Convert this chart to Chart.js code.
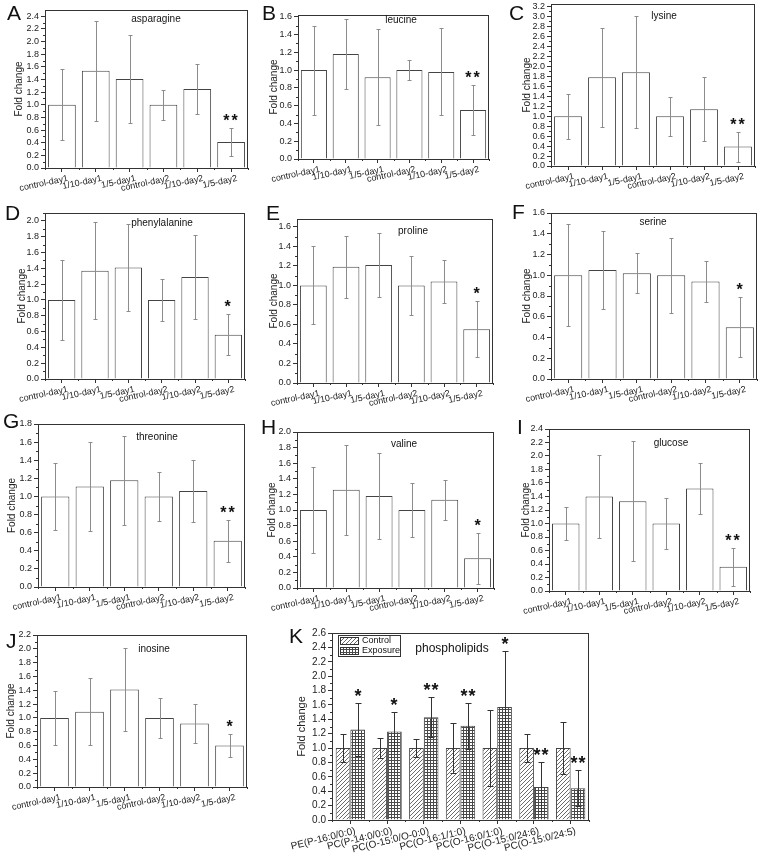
<!DOCTYPE html>
<html>
<head>
<meta charset="utf-8">
<script src="https://cdn.jsdelivr.net/npm/chart.js@4.4.0/dist/chart.umd.min.js"></script>
<style>
  body { margin: 0; background: #fff; width: 760px; height: 855px; position: relative; overflow: hidden;
         font-family: "Liberation Sans", Arial, sans-serif; }
  .box { position: absolute; }
  .letter { position: absolute; font-size: 21px; line-height: 21px; color: #111; }
</style>
</head>
<body>
<script>
// ---- data -----------------------------------------------------------------
const groups = ["control-day1", "1/10-day1", "1/5-day1", "control-day2", "1/10-day2", "1/5-day2"];

const asparagine    = [1.00, 1.54, 1.41, 1.00, 1.25, 0.41];
const asparagineErr = [0.56, 0.79, 0.70, 0.24, 0.40, 0.22];
const leucine       = [1.00, 1.18, 0.92, 1.00, 0.98, 0.55];
const leucineErr    = [0.50, 0.39, 0.54, 0.11, 0.49, 0.28];
const lysine        = [1.00, 1.78, 1.88, 1.00, 1.14, 0.39];
const lysineErr     = [0.45, 0.99, 1.12, 0.39, 0.64, 0.30];
const phenylalanine    = [1.00, 1.37, 1.41, 1.00, 1.29, 0.56];
const phenylalanineErr = [0.51, 0.61, 0.55, 0.265, 0.53, 0.26];
const proline       = [1.00, 1.19, 1.21, 1.00, 1.04, 0.55];
const prolineErr    = [0.40, 0.32, 0.33, 0.30, 0.225, 0.285];
const serine        = [1.00, 1.05, 1.02, 1.00, 0.94, 0.50];
const serineErr     = [0.49, 0.38, 0.19, 0.36, 0.195, 0.29];
const threonine     = [1.00, 1.11, 1.18, 1.00, 1.06, 0.51];
const threonineErr  = [0.37, 0.495, 0.49, 0.275, 0.34, 0.23];
const valine        = [1.00, 1.26, 1.18, 1.00, 1.13, 0.38];
const valineErr     = [0.545, 0.575, 0.55, 0.345, 0.26, 0.33];
const glucose       = [1.00, 1.40, 1.33, 1.00, 1.52, 0.36];
const glucoseErr    = [0.245, 0.62, 0.89, 0.38, 0.38, 0.28];
const inosine       = [1.00, 1.09, 1.41, 1.00, 0.92, 0.60];
const inosineErr    = [0.395, 0.485, 0.595, 0.29, 0.28, 0.165];

const sigDouble = ["", "", "", "", "", "**"];
const sigSingle = ["", "", "", "", "", "*"];

const lipids = ["PE(P-16:0/0:0)", "PC(P-14:0/0:0)", "PC(O-15:0/O-0:0)", "PC(O-16:1/1:0)",
                "PC(O-16:0/1:0)", "PC(O-15:0/24:6)", "PC(O-15:0/24:5)"];
const lipidControl     = [1.00, 1.00, 1.00, 1.00, 1.00, 1.00, 1.00];
const lipidControlErr  = [0.19, 0.14, 0.12, 0.345, 0.53, 0.20, 0.36];
const lipidExposure    = [1.26, 1.23, 1.43, 1.31, 1.57, 0.46, 0.44];
const lipidExposureErr = [0.37, 0.27, 0.275, 0.32, 0.78, 0.34, 0.25];
const lipidSig         = ["*", "*", "**", "**", "*", "**", "**"];

// y-axis: frame top and last labelled tick (labels every 0.2 from 0.0)
const yTops   = { A: 2.5, B: 1.62, C: 3.25, D: 2.1, E: 1.68, F: 1.6, G: 1.8, H: 2.0, I: 2.4, J: 2.2, K: 2.6 };
const yLabelTo = { A: 2.4, B: 1.6, C: 3.2, D: 2.0, E: 1.6, F: 1.6, G: 1.8, H: 2.0, I: 2.4, J: 2.2, K: 2.6 };
const Y_STEP = 0.2;

// ---- patterns ---------------------------------------------------------------
function makePattern(kind) {
  const c = document.createElement("canvas");
  const s = kind === "diag" ? 4 : 3;
  c.width = c.height = s;
  const g = c.getContext("2d");
  g.fillStyle = "#fff"; g.fillRect(0, 0, s, s);
  g.strokeStyle = kind === "diag" ? "#6a6a6a" : "#4a4a4a";
  g.lineWidth = 1;
  g.beginPath();
  if (kind === "diag") {
    g.moveTo(0, s); g.lineTo(s, 0);
    g.moveTo(-1, 1); g.lineTo(1, -1);
    g.moveTo(s - 1, s + 1); g.lineTo(s + 1, s - 1);
  } else {
    g.moveTo(0, 0.5); g.lineTo(s, 0.5);
    g.moveTo(0.5, 0); g.lineTo(0.5, s);
  }
  g.stroke();
  return g.createPattern(c, "repeat");
}
const diagFill = makePattern("diag");
const gridFill = makePattern("grid");

// ---- plugins ----------------------------------------------------------------
const decorations = {
  id: "decorations",
  afterDatasetsDraw(chart, args, o) {
    const { ctx, chartArea: a, scales: { x, y } } = chart;
    ctx.save();
    // frame + minor ticks
    ctx.strokeStyle = "#333";
    ctx.lineWidth = 1;
    ctx.strokeRect(Math.round(a.left) + 0.5, Math.round(a.top) + 0.5,
                   Math.round(a.right - a.left) - 1, Math.round(a.bottom - a.top));
    ctx.beginPath();
    for (let v = Y_STEP / 2; v < y.max; v += Y_STEP) {
      const py = Math.round(y.getPixelForValue(v)) + 0.5;
      ctx.moveTo(a.left - 2, py); ctx.lineTo(a.left, py);
    }
    for (let i = 0; i <= chart.data.labels.length; i++) {
      const px = Math.round(x.getPixelForValue(i - 0.5)) + 0.5;
      ctx.moveTo(px, a.bottom); ctx.lineTo(px, a.bottom + 2);
    }
    ctx.stroke();

    // error bars + significance marks
    chart.data.datasets.forEach((ds, di) => {
      const meta = chart.getDatasetMeta(di);
      meta.data.forEach((bar, i) => {
        const v = ds.data[i], e = ds.err[i];
        const top = Math.round(y.getPixelForValue(v + e)) + 0.5;
        const bot = Math.round(y.getPixelForValue(v - e)) + 0.5;
        const bx = Math.round(bar.x) + 0.5;
        ctx.strokeStyle = o.errColor;
        ctx.beginPath();
        ctx.moveTo(bx, top); ctx.lineTo(bx, bot);
        ctx.moveTo(bx - o.cap, top); ctx.lineTo(bx + o.cap, top);
        ctx.moveTo(bx - o.cap, bot); ctx.lineTo(bx + o.cap, bot);
        ctx.stroke();
        const s = ds.sig && ds.sig[i];
        if (s) {
          ctx.fillStyle = "#111";
          ctx.font = o.starFont;
          ctx.textAlign = "center";
          ctx.textBaseline = "alphabetic";
          ctx.letterSpacing = o.starSpacing;
          ctx.fillText(s, bx, top - o.starGap);
          ctx.letterSpacing = "0px";
        }
      });
    });

    // panel name inside the plot
    ctx.fillStyle = "#111";
    ctx.font = o.nameFont;
    ctx.textAlign = "center";
    ctx.textBaseline = "middle";
    ctx.fillText(o.name, o.nameX, o.nameY);

    // boxed legend (panel K)
    if (o.legend) {
      const lx = Math.round(a.left) + 6, ly = Math.round(a.top) + 2, lw = 62, rowH = 10;
      ctx.fillStyle = "#fff";
      ctx.fillRect(lx, ly, lw, rowH * 2 + 1);
      ctx.strokeStyle = "#333";
      ctx.strokeRect(lx + 0.5, ly + 0.5, lw, rowH * 2 + 1);
      ctx.font = "9px " + FONT;
      ctx.textAlign = "left";
      ctx.textBaseline = "middle";
      chart.data.datasets.forEach((ds, di) => {
        const ry = ly + 2 + di * rowH;
        ctx.fillStyle = ds.backgroundColor;
        ctx.fillRect(lx + 2, ry, 18, 7);
        ctx.strokeStyle = "#333";
        ctx.strokeRect(lx + 2.5, ry + 0.5, 18, 7);
        ctx.fillStyle = "#111";
        ctx.fillText(ds.label, lx + 24, ry + 4);
      });
    }
    ctx.restore();
  }
};

// ---- panel layout -----------------------------------------------------------
const FONT = "'Liberation Sans', Arial, sans-serif";
const panels = [
  { id: "A", name: "asparagine",    data: [asparagine],    err: [asparagineErr],    sig: [sigDouble], plot: [45, 10, 248, 168],   yTitleX: 20,  letter: [7, 5],    nameAt: [156, 19] },
  { id: "B", name: "leucine",       data: [leucine],       err: [leucineErr],       sig: [sigDouble], plot: [298, 15, 489, 159],  yTitleX: 275, letter: [262, 5],  nameAt: [401, 20] },
  { id: "C", name: "lysine",        data: [lysine],        err: [lysineErr],        sig: [sigDouble], plot: [551, 4, 755, 166],   yTitleX: 528, letter: [509, 5],  nameAt: [664, 16] },
  { id: "D", name: "phenylalanine", data: [phenylalanine], err: [phenylalanineErr], sig: [sigSingle], plot: [45, 213, 245, 379],  yTitleX: 23,  letter: [5, 205],  nameAt: [162, 223] },
  { id: "E", name: "proline",       data: [proline],       err: [prolineErr],       sig: [sigSingle], plot: [297, 219, 493, 383], yTitleX: 275, letter: [266, 205], nameAt: [413, 231] },
  { id: "F", name: "serine",        data: [serine],        err: [serineErr],        sig: [sigSingle], plot: [551, 213, 757, 379], yTitleX: 528, letter: [512, 204], nameAt: [653, 222] },
  { id: "G", name: "threonine",     data: [threonine],     err: [threonineErr],     sig: [sigDouble], plot: [38, 424, 245, 587],  yTitleX: 13,  letter: [3, 413],  nameAt: [157, 437] },
  { id: "H", name: "valine",        data: [valine],        err: [valineErr],        sig: [sigSingle], plot: [297, 432, 494, 588], yTitleX: 273, letter: [261, 419], nameAt: [404, 444] },
  { id: "I", name: "glucose",       data: [glucose],       err: [glucoseErr],       sig: [sigDouble], plot: [549, 429, 750, 591], yTitleX: 527, letter: [517, 419], nameAt: [671, 443] },
  { id: "J", name: "inosine",       data: [inosine],       err: [inosineErr],       sig: [sigSingle], plot: [37, 635, 247, 787],  yTitleX: 12,  letter: [6, 633],  nameAt: [154, 649] },
];

function addLetter(text, x, capTop) {
  const d = document.createElement("div");
  d.className = "letter";
  d.textContent = text;
  d.style.left = x + "px";
  d.style.top = (capTop - 2.7) + "px";
  document.body.appendChild(d);
}

function yTickValues(id) {
  const out = [];
  const n = Math.round(yLabelTo[id] / Y_STEP);
  for (let k = 0; k <= n; k++) out.push({ value: +(k * Y_STEP).toFixed(1) });
  return out;
}

function buildPanel(p, opts) {
  const [l, t, r, b] = p.plot;
  const padL = 26, padT = 8, padR = 4, xH = opts.xH;
  const left = Math.round(p.yTitleX - 11 - padL);
  const top = t - padT;
  const w = r + padR - left, h = b + xH - top;
  const yW = l - left - padL;

  const div = document.createElement("div");
  div.className = "box";
  Object.assign(div.style, { left: left + "px", top: top + "px", width: w + "px", height: h + "px" });
  const cv = document.createElement("canvas");
  div.appendChild(cv);
  document.body.appendChild(div);
  addLetter(p.id, p.letter[0], p.letter[1]);

  new Chart(cv, {
    type: "bar",
    data: {
      labels: opts.labels,
      datasets: p.data.map((d, i) => ({
        label: opts.seriesNames ? opts.seriesNames[i] : p.name,
        data: d,
        err: p.err[i],
        sig: p.sig[i],
        backgroundColor: opts.fills ? opts.fills[i] : "#fff",
        borderColor: "#444",
        borderWidth: 1,
        categoryPercentage: opts.catPct,
        barPercentage: opts.barPct,
      })),
    },
    options: {
      responsive: true,
      maintainAspectRatio: false,
      animation: false,
      devicePixelRatio: 1,
      layout: { padding: { left: padL, top: padT, right: padR, bottom: 0 } },
      plugins: {
        legend: { display: false },
        tooltip: { enabled: false },
        decorations: {
          name: p.name,
          nameX: p.nameAt[0] - left,
          nameY: p.nameAt[1] - top,
          nameFont: opts.nameFont,
          errColor: opts.errColor,
          cap: opts.cap,
          starFont: opts.starFont,
          starSpacing: opts.starSpacing,
          starGap: opts.starGap,
          legend: !!opts.seriesNames,
        },
      },
      scales: {
        x: {
          offset: true,
          grid: { offset: false, drawOnChartArea: false, drawTicks: true, tickLength: 4, color: "#333" },
          border: { display: true, color: "#333" },
          ticks: { color: "#222", font: { family: FONT, size: opts.xTickSize }, minRotation: opts.rot, maxRotation: opts.rot,
                   autoSkip: false, padding: 1, labelOffset: opts.labelShift },
          afterFit(s) { s.height = xH; s.paddingLeft = 0; s.paddingRight = 0; },
        },
        y: {
          min: 0,
          max: yTops[p.id],
          grid: { drawOnChartArea: false, drawTicks: true, tickLength: 4, color: "#333" },
          border: { display: true, color: "#333" },
          ticks: { autoSkip: false, color: "#222", font: { family: FONT, size: opts.tickSize }, padding: 2,
                   callback: v => v.toFixed(1) },
          afterBuildTicks(s) { s.ticks = yTickValues(p.id); },
          afterFit(s) { s.width = yW; s.paddingTop = 0; s.paddingBottom = 0; },
          title: { display: true, text: "Fold change", color: "#222", font: { family: FONT, size: opts.yTitleSize }, padding: { top: 4, bottom: 0 } },
        },
      },
    },
    plugins: [decorations],
  });
}

const smallOpts = {
  labels: groups, xH: 40, tickSize: 9, xTickSize: 9, yTitleSize: 10, rot: 12, labelShift: 6,
  catPct: 1.0, barPct: 0.82, errColor: "#8c8c8c", cap: 2,
  nameFont: "10px " + FONT, starFont: "bold 16px " + FONT, starSpacing: "2px", starGap: 3,
};
panels.forEach(p => buildPanel(p, smallOpts));

buildPanel(
  { id: "K", name: "phospholipids", data: [lipidControl, lipidExposure], err: [lipidControlErr, lipidExposureErr],
    sig: [null, lipidSig], plot: [332, 633, 589, 820], yTitleX: 302, letter: [289, 628], nameAt: [452, 649] },
  {
    labels: lipids, xH: 35, tickSize: 10, xTickSize: 10, yTitleSize: 11, rot: 14, labelShift: 5,
    catPct: 0.8, barPct: 1.0, errColor: "#333", cap: 3,
    seriesNames: ["Control", "Exposure"], fills: [diagFill, gridFill],
    nameFont: "12px " + FONT, starFont: "bold 18px " + FONT, starSpacing: "1px", starGap: 2,
  }
);
</script>
</body>
</html>
